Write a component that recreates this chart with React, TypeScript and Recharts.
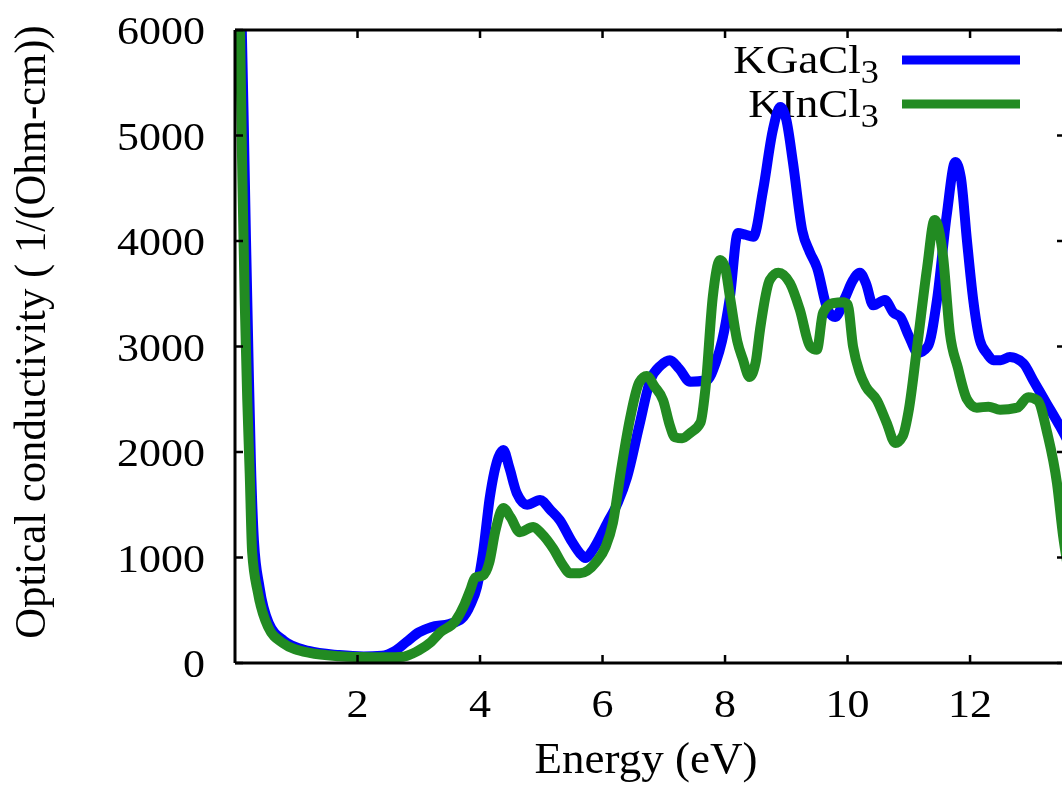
import React from 'react';
import { LineChart, Line, XAxis, YAxis, Customized } from 'recharts';

// KGaCl3 (blue)
const energyKGa = [0.05, 0.1, 0.14, 0.18, 0.22, 0.26, 0.31, 0.4, 0.55, 0.8, 1.2, 1.7, 2.1, 2.4, 2.6, 2.8, 3.0, 3.2, 3.5, 3.7, 3.85, 3.95, 4.05, 4.16, 4.3, 4.38, 4.48, 4.6, 4.77, 4.98, 5.15, 5.3, 5.5, 5.63, 5.72, 5.85, 6.07, 6.25, 6.4, 6.6, 6.78, 6.95, 7.1, 7.25, 7.43, 7.7, 7.85, 7.95, 8.08, 8.21, 8.33, 8.46, 8.62, 8.78, 8.9, 9.0, 9.11, 9.26, 9.38, 9.5, 9.68, 9.8, 9.95, 10.09, 10.2, 10.3, 10.42, 10.61, 10.75, 10.86, 11.0, 11.15, 11.31, 11.46, 11.62, 11.76, 11.85, 11.95, 12.05, 12.16, 12.28, 12.38, 12.5, 12.65, 12.87, 13.03, 13.25, 13.47, 13.6];
const sigmaKGa = [7500, 6300, 5200, 4000, 2900, 1900, 1150, 720, 380, 210, 115, 75, 62, 68, 110, 200, 290, 340, 370, 420, 560, 720, 1050, 1570, 1950, 2020, 1850, 1610, 1500, 1545, 1450, 1355, 1150, 1040, 995, 1080, 1320, 1520, 1760, 2250, 2680, 2820, 2870, 2790, 2665, 2680, 2850, 3050, 3470, 4075, 4060, 4040, 4480, 5050, 5270, 5150, 4740, 4100, 3900, 3750, 3345, 3280, 3450, 3630, 3700, 3600, 3390, 3440, 3320, 3280, 3100, 2940, 3000, 3440, 4250, 4750, 4600, 4000, 3450, 3060, 2930, 2870, 2870, 2900, 2840, 2680, 2460, 2240, 2100];

// KInCl3 (green)
const energyKIn = [0.03, 0.08, 0.12, 0.16, 0.2, 0.24, 0.28, 0.375, 0.54, 0.78, 1.22, 1.7, 2.0, 2.5, 2.75, 2.9, 3.0, 3.2, 3.35, 3.6, 3.75, 3.84, 3.92, 4.05, 4.15, 4.25, 4.38, 4.5, 4.65, 4.87, 5.0, 5.2, 5.35, 5.47, 5.63, 5.9, 6.05, 6.17, 6.3, 6.45, 6.6, 6.72, 6.85, 6.99, 7.1, 7.18, 7.3, 7.43, 7.6, 7.68, 7.8, 7.92, 8.0, 8.08, 8.2, 8.29, 8.4, 8.5, 8.57, 8.73, 8.87, 9.06, 9.22, 9.39, 9.5, 9.6, 9.76, 9.93, 10.0, 10.09, 10.2, 10.3, 10.48, 10.64, 10.78, 10.9, 11.0, 11.13, 11.3, 11.42, 11.56, 11.67, 11.8, 11.95, 12.11, 12.3, 12.49, 12.77, 12.95, 13.1, 13.26, 13.42, 13.52, 13.6];
const sigmaKIn = [8000, 6100, 4600, 3400, 2500, 1800, 1050, 664, 341, 190, 95, 65, 58, 55, 60, 90, 120, 200, 290, 400, 560, 690, 810, 830, 950, 1250, 1470, 1380, 1240, 1290, 1230, 1080, 930, 850, 850, 960, 1100, 1330, 1820, 2320, 2660, 2720, 2620, 2490, 2250, 2140, 2130, 2180, 2280, 2600, 3470, 3820, 3750, 3470, 3050, 2880, 2710, 2850, 3155, 3630, 3700, 3600, 3350, 3000, 2970, 3320, 3410, 3420, 3400, 3000, 2750, 2620, 2490, 2275, 2085, 2150, 2400, 2970, 3750, 4200, 3850, 3130, 2800, 2500, 2420, 2430, 2400, 2420, 2520, 2490, 2180, 1700, 1200, 900];

const xTicks = [2, 4, 6, 8, 10, 12];
const yTicks = [0, 1000, 2000, 3000, 4000, 5000, 6000];
const xDomain = [0, 13.55];
const yDomain = [0, 6000];
const legendNames = ['KGaCl', 'KInCl'];
const legendSub = '3';
const xTitle = 'Energy (eV)';
const yTitle = 'Optical conductivity ( 1/(Ohm-cm))';

const BLUE = '#0000ff';
const GREEN = '#228b22';
const FONT = '"Liberation Serif", "DejaVu Serif", serif';
const STRETCH = 1.1;

const kgaData = energyKGa.map((e, i) => ({ e, v: sigmaKGa[i] }));
const kinData = energyKIn.map((e, i) => ({ e, v: sigmaKIn[i] }));

const NoTick = () => <g />;

const makeTick = (dy: string) => (props: any) => {
  const { x, y, payload, textAnchor } = props;
  return (
    <text
      transform={`translate(${x},${y}) scale(${STRETCH},1)`}
      x={0}
      y={0}
      dy={dy}
      textAnchor={textAnchor}
      fontFamily={FONT}
      fontSize={40}
      fill="#000"
    >
      {payload.value}
    </text>
  );
};
const BottomTick = makeTick('0.71em');
const LeftTick = makeTick('0.355em');

const LegendLabel = ({ x, y, name }: { x: number; y: number; name: string }) => (
  <text transform={`translate(${x},${y}) scale(${STRETCH},1)`} x={0} y={0} fontSize={41} textAnchor="end">
    {name}
    <tspan fontSize={33} dy={10}>{legendSub}</tspan>
  </text>
);

const Decor = () => (
  <g fontFamily={FONT} fill="#000">
    <text x={646} y={765} fontSize={45} textAnchor="middle">{xTitle}</text>
    <text
      x={0}
      y={0}
      fontSize={45}
      textAnchor="middle"
      transform="translate(45,324) rotate(-90) scale(0.95,1)"
    >
      {yTitle}
    </text>
    <LegendLabel x={879} y={65} name={legendNames[0]} />
    <line x1={902} x2={1020} y1={52} y2={52} stroke={BLUE} strokeWidth={9} />
    <LegendLabel x={879} y={109} name={legendNames[1]} />
    <line x1={902} x2={1020} y1={96} y2={96} stroke={GREEN} strokeWidth={9} />
  </g>
);

export default function App() {
  return (
    <div style={{ position: 'fixed', left: 0, top: 0, width: 1062, height: 793, overflow: 'hidden' }}>
      <div style={{ position: 'absolute', left: 0, top: 8 }}>
        <LineChart width={1078} height={785} margin={{ top: 0, right: 8, bottom: 0, left: 0 }}>
          <XAxis
            xAxisId="b"
            dataKey="e"
            type="number"
            domain={xDomain}
            ticks={xTicks}
            allowDataOverflow
            orientation="bottom"
            height={130}
            tickSize={-8}
            tickMargin={34}
            tick={BottomTick}
            axisLine={{ stroke: '#000', strokeWidth: 3 }}
            tickLine={{ stroke: '#000', strokeWidth: 2.5 }}
          />
          <XAxis
            xAxisId="t"
            dataKey="e"
            type="number"
            domain={xDomain}
            ticks={xTicks}
            allowDataOverflow
            orientation="top"
            height={22}
            tickSize={-8}
            tick={NoTick}
            axisLine={{ stroke: '#000', strokeWidth: 3 }}
            tickLine={{ stroke: '#000', strokeWidth: 2.5 }}
          />
          <YAxis
            yAxisId="l"
            type="number"
            domain={yDomain}
            ticks={yTicks}
            allowDataOverflow
            orientation="left"
            width={235}
            tickSize={-8}
            tickMargin={38}
            tick={LeftTick}
            axisLine={{ stroke: '#000', strokeWidth: 3 }}
            tickLine={{ stroke: '#000', strokeWidth: 2.5 }}
          />
          <YAxis
            yAxisId="r"
            type="number"
            domain={yDomain}
            ticks={yTicks}
            allowDataOverflow
            orientation="right"
            width={5}
            tickSize={-8}
            tick={NoTick}
            axisLine={{ stroke: '#000', strokeWidth: 3 }}
            tickLine={{ stroke: '#000', strokeWidth: 2.5 }}
          />
          <Line
            xAxisId="b"
            yAxisId="l"
            data={kgaData}
            dataKey="v"
            type="monotone"
            stroke={BLUE}
            strokeWidth={10}
            dot={false}
            activeDot={false}
            isAnimationActive={false}
            strokeLinejoin="round"
          />
          <Line
            xAxisId="b"
            yAxisId="l"
            data={kinData}
            dataKey="v"
            type="monotone"
            stroke={GREEN}
            strokeWidth={10}
            dot={false}
            activeDot={false}
            isAnimationActive={false}
            strokeLinejoin="round"
          />
          <Customized component={Decor} />
        </LineChart>
      </div>
    </div>
  );
}
